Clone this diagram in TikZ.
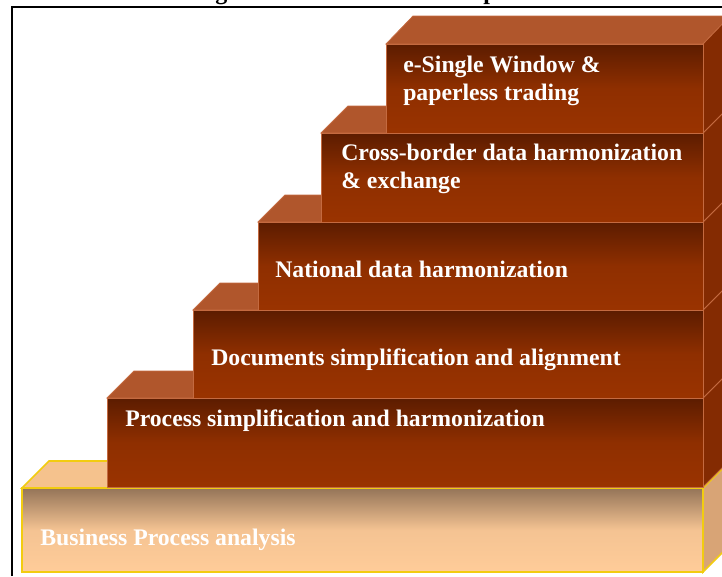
\documentclass[tikz,border=0pt]{standalone}
\usepackage{fontspec}
\setmainfont{Liberation Serif}
\definecolor{brick}{HTML}{9A3300}
\definecolor{brickdark}{HTML}{5C1C00}
\definecolor{bricktop}{HTML}{B0562C}
\definecolor{brickside}{HTML}{842B02}
\definecolor{brickedge}{HTML}{C46A40}
\definecolor{sand}{HTML}{FFCC99}
\definecolor{sanddark}{HTML}{947458}
\definecolor{sandtop}{HTML}{F5C28D}
\definecolor{sandside}{HTML}{D8A476}
\definecolor{sandedge}{HTML}{F2CC10}

\begin{document}
\begin{tikzpicture}[x=0.75pt, y=-0.75pt]
                \tikzstyle{frontface} = [top color=brickdark, bottom color=brick, middle color=brick!82!brickdark, draw=brickedge, line width=0.6pt]
                \tikzstyle{topface} = [fill=bricktop, draw=brickedge, line width=0.6pt]
                \tikzstyle{sideface} = [fill=brickside, draw=brickedge, line width=0.6pt]
                \tikzstyle{basefront} = [top color=sanddark, bottom color=sand, middle color=sand!90!sanddark, draw=sandedge, line width=1.2pt]
                \tikzstyle{steptext} = [text=white, inner sep=0pt, font=\fontsize{17.8}{21}\selectfont\bfseries]
                \clip (0, 0) rectangle (722, 576);
                % title, cut off at the top
                \node[anchor=base west, inner sep=0pt, font=\fontsize{18}{21}\selectfont\bfseries] (titleg) at (215, -1) {g};
                \node[anchor=base west, inner sep=0pt, font=\fontsize{18}{21}\selectfont\bfseries] (titlep) at (483, -1) {p};
                \draw[line width=1.5pt] (12, 576) -- (12, 7) -- (722, 7);
                % base
                \draw[fill=sandtop, draw=sandedge, line width=1.2pt] (22, 488) -- (49, 461) -- (730, 461) -- (703, 488) -- cycle;
                \draw[fill=sandside, draw=sandedge, line width=1.2pt] (703, 488) -- (730, 461) -- (730, 545) -- (703, 572) -- cycle;
                \draw[basefront] (22, 488) rectangle (703, 572);
                % step 1
                \draw[topface] (107, 398) -- (134, 371) -- (730, 371) -- (703, 398) -- cycle;
                \draw[sideface] (703, 398) -- (730, 371) -- (730, 460) -- (703, 487) -- cycle;
                \draw[frontface] (107, 398) rectangle (703, 487);
                % step 2
                \draw[topface] (193, 310) -- (220, 283) -- (730, 283) -- (703, 310) -- cycle;
                \draw[sideface] (703, 310) -- (730, 283) -- (730, 371) -- (703, 398) -- cycle;
                \draw[frontface] (193, 310) rectangle (703, 398);
                % step 3
                \draw[topface] (258, 222) -- (285, 195) -- (730, 195) -- (703, 222) -- cycle;
                \draw[sideface] (703, 222) -- (730, 195) -- (730, 283) -- (703, 310) -- cycle;
                \draw[frontface] (258, 222) rectangle (703, 310);
                % step 4
                \draw[topface] (321, 133) -- (348, 106) -- (730, 106) -- (703, 133) -- cycle;
                \draw[sideface] (703, 133) -- (730, 106) -- (730, 195) -- (703, 222) -- cycle;
                \draw[frontface] (321, 133) rectangle (703, 222);
                % step 5
                \draw[topface] (386, 44) -- (413, 16) -- (730, 16) -- (703, 44) -- cycle;
                \draw[sideface] (703, 44) -- (730, 16) -- (730, 106) -- (703, 133) -- cycle;
                \draw[frontface] (386, 44) rectangle (703, 133);
                % labels
                \node[steptext, anchor=base west] (bpa) at (40, 545) {Business Process analysis};
                \node[steptext, anchor=base west] (process) at (125, 426) {Process simplification and harmonization};
                \node[steptext, anchor=base west] (documents) at (211, 365) {Documents simplification and alignment};
                \node[steptext, anchor=base west] (national) at (275, 277) {National data harmonization};
                \node[steptext, anchor=north west, align=left] (crossborder) at (341, 144) {Cross-border data harmonization\\\& exchange};
                \node[steptext, anchor=north west, align=left] (singlewindow) at (403, 56) {e-Single Window \&\\paperless trading};
            \end{tikzpicture}
\end{document}
